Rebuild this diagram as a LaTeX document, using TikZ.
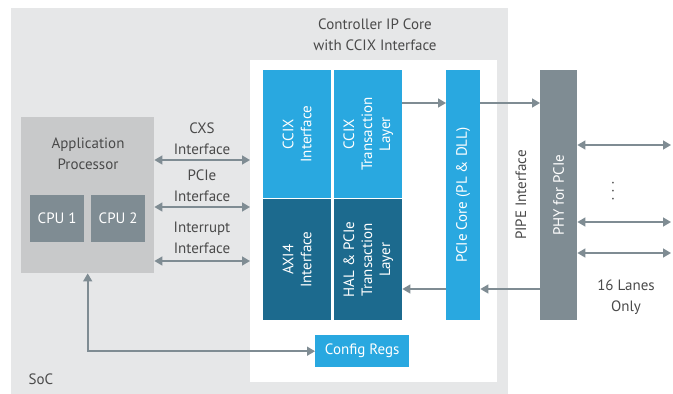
\documentclass[tikz,border=0pt]{standalone}
\usepackage{fontspec}
\setmainfont{PT Sans}
\usetikzlibrary{arrows.meta}
\definecolor{socgray}{HTML}{E6E7E8}
\definecolor{apgray}{HTML}{C8C9CA}
\definecolor{phygray}{HTML}{7F8C93}
\definecolor{ltblue}{HTML}{29A8E0}
\definecolor{dkblue}{HTML}{1C6A8E}
\definecolor{txtgray}{HTML}{4A4A4A}

\begin{document}
\begin{tikzpicture}[x=1pt, y=-1pt,
    blk/.style={rectangle, inner sep=0, anchor=north west},
    lbl/.style={text=txtgray, align=center, font=\fontsize{15}{21}\selectfont},
    wlbl/.style={text=white, align=center, font=\fontsize{15}{18}\selectfont},
    lnk/.style={draw=phygray, line width=1.6pt, -{Triangle[length=8pt,width=9pt]}},
    dlnk/.style={lnk, {Triangle[length=8pt,width=9pt]}-{Triangle[length=8pt,width=9pt]}}]
    \useasboundingbox (0,0) rectangle (673,394);

    % SoC and controller core
    \fill[socgray] (11,8) rectangle (508,394);
    \node[lbl] (soc) at (41,379) {SoC};
    \node[blk, fill=white, minimum width=247, minimum height=322] (ctrl) at (250,60) {};
    \node[lbl] (title) at (375,35) {Controller IP Core\\with CCIX Interface};

    \node[blk, fill=ltblue, minimum width=68, minimum height=128] (ccix) at (263,70) {};
    \node[wlbl, rotate=90] at (ccix) {CCIX\\Interface};
    \node[blk, fill=ltblue, minimum width=68, minimum height=128] (ccixtl) at (334,70) {};
    \node[wlbl, rotate=90] at (ccixtl) {CCIX\\Transaction\\Layer};
    \node[blk, fill=dkblue, minimum width=68, minimum height=121] (axi) at (263,199) {};
    \node[wlbl, rotate=90] at (axi) {AXI4\\Interface};
    \node[blk, fill=dkblue, minimum width=68, minimum height=121] (hal) at (334,199) {};
    \node[wlbl, rotate=90] at (hal) {HAL \& PCIe\\Transaction\\Layer};

    \node[blk, fill=ltblue, minimum width=34, minimum height=250] (pcie) at (446,70) {};
    \node[wlbl, rotate=90] at (pcie) {PCIe Core (PL \& DLL)};
    \node[blk, fill=ltblue, minimum width=94, minimum height=32] (cfg) at (315,335) {};
    \node[wlbl] at (cfg) {Config Regs};

    % PHY
    \node[blk, fill=phygray, minimum width=37, minimum height=250] (phy) at (540,70) {};
    \node[wlbl, rotate=90] at (phy) {PHY for PCIe};
    \node[lbl, rotate=90] (pipe) at (521,195) {PIPE Interface};

    % application processor
    \node[blk, fill=apgray, minimum width=133, minimum height=156] (ap) at (21,117) {};
    \node[lbl] (aptxt) at (88,154) {Application\\Processor};
    \node[blk, fill=phygray, minimum width=54, minimum height=47] (cpua) at (30,195) {};
    \node[wlbl] at (cpua) {CPU 1};
    \node[blk, fill=phygray, minimum width=54, minimum height=47] (cpub) at (91,195) {};
    \node[wlbl] at (cpub) {CPU 2};

    % interfaces
    \node[lbl] (cxs) at (202,139) {CXS\\Interface};
    \node[lbl] (pcif) at (202,186) {PCIe\\Interface};
    \node[lbl] (irq) at (202,238) {Interrupt\\Interface};
    \draw[dlnk] (ap.east |- 0,160) -- (ctrl.west |- 0,160);
    \draw[dlnk] (ap.east |- 0,207) -- (ctrl.west |- 0,207);
    \draw[dlnk] (ap.east |- 0,261) -- (ctrl.west |- 0,261);
    \draw[dlnk] (ap.south) |- (cfg.west);

    \draw[lnk] (ccixtl.east |- 0,103) -- (pcie.west |- 0,103);
    \draw[lnk] (pcie.east |- 0,103) -- (phy.west |- 0,103);
    \draw[lnk] (phy.west |- 0,289) -- (pcie.east |- 0,289);
    \draw[lnk] (pcie.west |- 0,289) -- (hal.east |- 0,289);

    % lanes
    \coordinate (lanea) at (671,145);
    \coordinate (laneb) at (671,222);
    \coordinate (lanec) at (671,253);
    \draw[dlnk] (phy.east |- lanea) -- (lanea);
    \draw[dlnk] (phy.east |- laneb) -- (laneb);
    \draw[dlnk] (phy.east |- lanec) -- (lanec);
    \node[lbl, rotate=-90] (dots) at (613,191) {.\hspace{5pt}.\hspace{5pt}.};
    \node[lbl] (lanes) at (626,297) {16 Lanes\\Only};
\end{tikzpicture}
\end{document}
